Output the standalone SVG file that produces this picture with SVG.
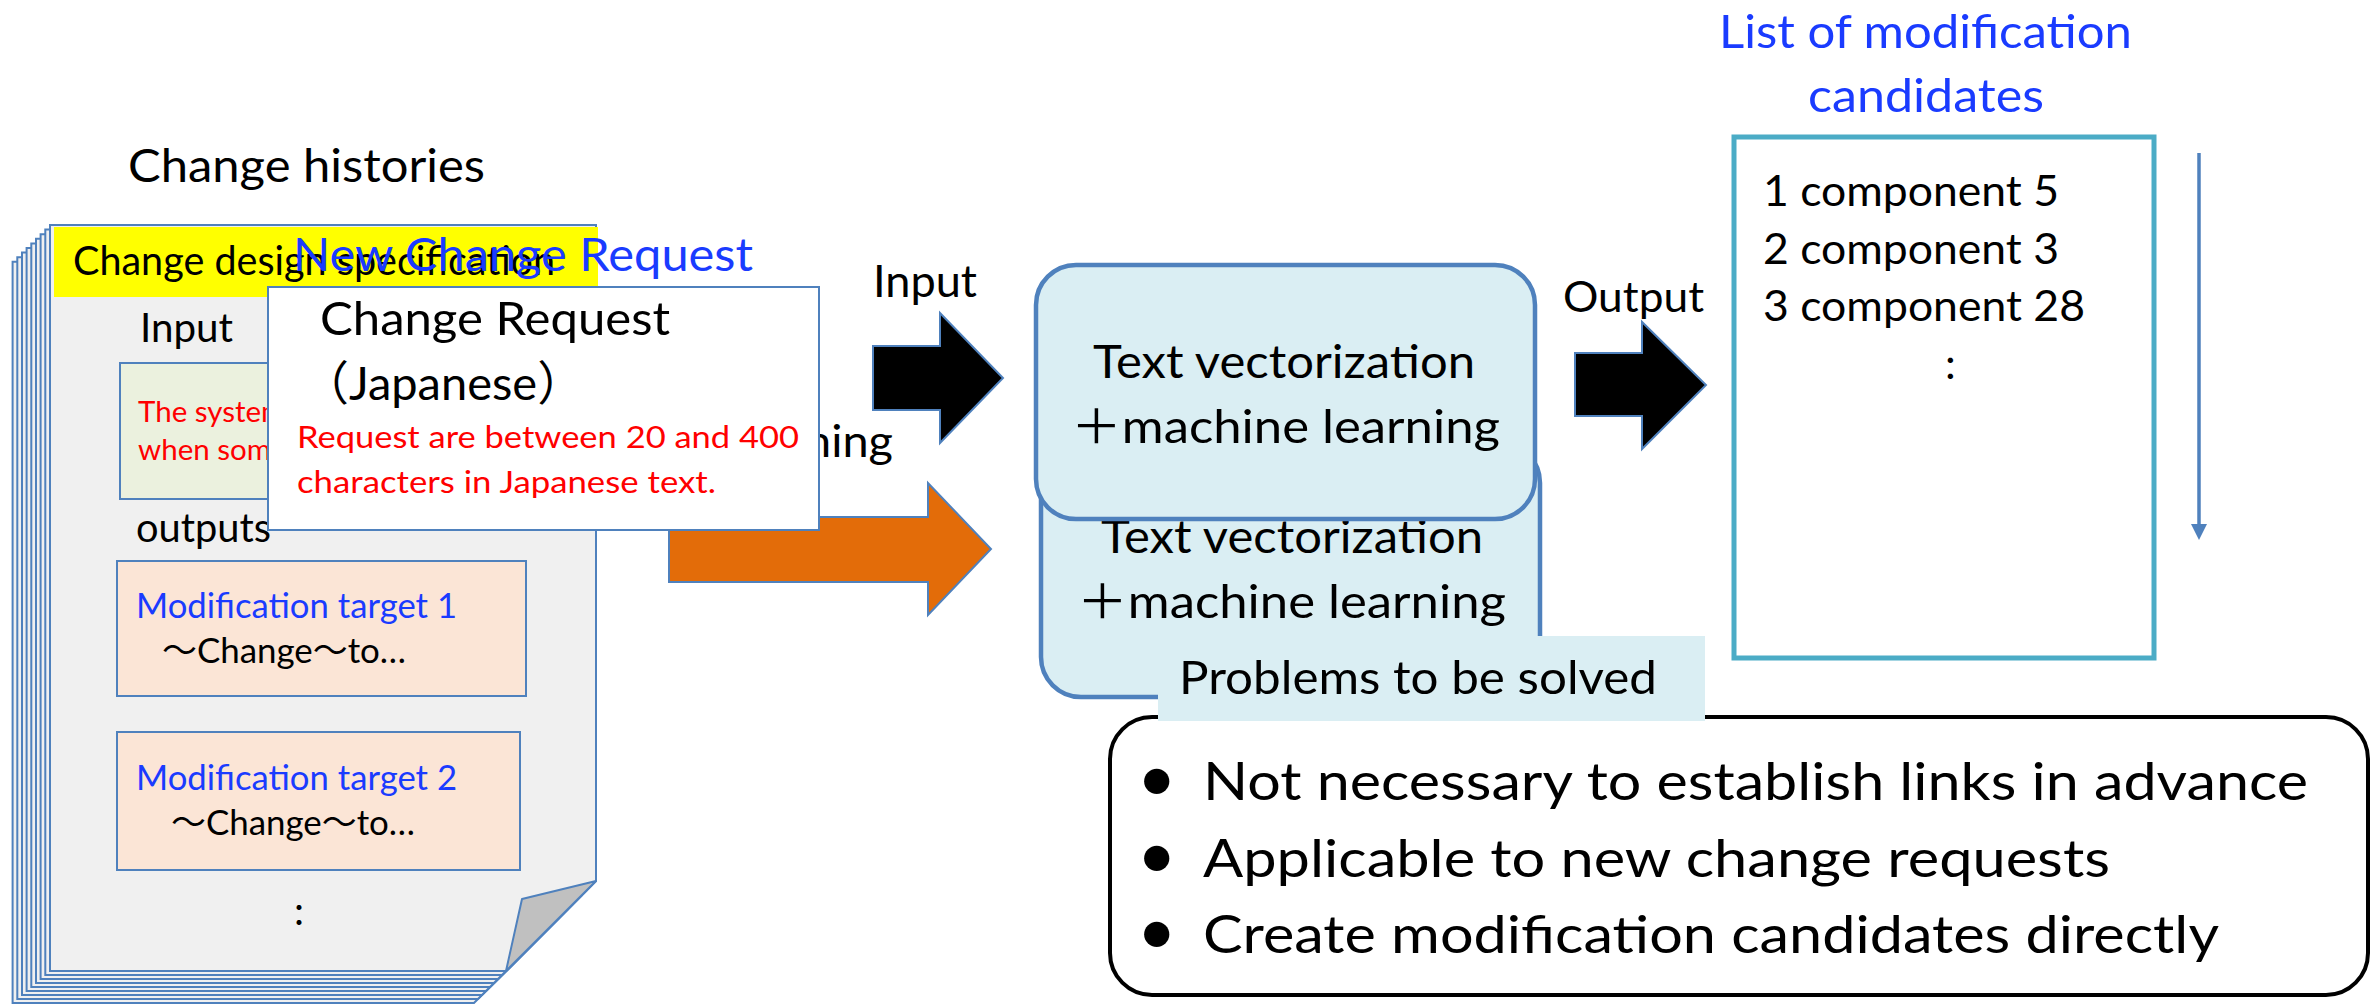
<svg xmlns="http://www.w3.org/2000/svg" width="2373" height="1005" viewBox="0 0 2373 1005">
<style>
text{font-family:Lato,"Noto Sans CJK JP",sans-serif;fill:#000}
.pg{fill:#F0F0F0;stroke:#4F81BD;stroke-width:2}
.blu{fill:#1A3BFF}
.red{fill:#FF0000}
.ml{fill:#DAEEF3;stroke:#4F81BD;stroke-width:4.5}
.arr{stroke:#4F81BD;stroke-width:2}
</style>
<rect width="2373" height="1005" fill="#FFFFFF"/>

<g id="change-histories">
<text x="128" y="182" font-size="47" textLength="357" lengthAdjust="spacingAndGlyphs">Change histories</text>
<polygon class="pg" points="12.6,261.8 558.6,261.8 558.6,918.4 474,1003 12.6,1003"/>
<polygon class="pg" points="17.3,257.2 563.3,257.2 563.3,913.7 478,999 17.3,999"/>
<polygon class="pg" points="22,252.6 568,252.6 568,909 482,995 22,995"/>
<polygon class="pg" points="26.6,248 572.6,248 572.6,904.4 486,991 26.6,991"/>
<polygon class="pg" points="31.3,243.4 577.3,243.4 577.3,899.7 490,987 31.3,987"/>
<polygon class="pg" points="36,238.8 582,238.8 582,895 494,983 36,983"/>
<polygon class="pg" points="40.6,234.2 586.6,234.2 586.6,890.4 498,979 40.6,979"/>
<polygon class="pg" points="45.3,229.6 591.3,229.6 591.3,885.7 502,975 45.3,975"/>
<polygon class="pg" points="50,225 596,225 596,881 506,971 50,971"/>
<polygon points="596,881 522,899 506,971" fill="#C0C0C0" stroke="#4F81BD" stroke-width="2" stroke-linejoin="round"/>
<rect x="54" y="227" width="544" height="70" fill="#FFFF00"/>
<text x="73" y="275" font-size="40" textLength="482" lengthAdjust="spacingAndGlyphs">Change design specification</text>
<text x="140" y="342" font-size="40" textLength="93" lengthAdjust="spacingAndGlyphs">Input</text>
<rect x="120" y="363" width="320" height="136" fill="#EBF1DE" stroke="#4F81BD" stroke-width="2"/>
<text class="red" x="138" y="422" font-size="29.5">The system</text>
<text class="red" x="138" y="460" font-size="29.5">when some</text>
<text x="136" y="542" font-size="40" textLength="135" lengthAdjust="spacingAndGlyphs">outputs</text>
</g>

<g id="modification-target-1">
<rect x="117" y="561" width="409" height="135" fill="#FBE5D6" stroke="#4F81BD" stroke-width="2"/>
<text class="blu" x="136" y="618" font-size="35" textLength="321" lengthAdjust="spacingAndGlyphs">Modification target 1</text>
<text x="162" y="663" font-size="35" textLength="244" lengthAdjust="spacingAndGlyphs">～Change～to…</text>
</g>
<g id="modification-target-2">
<rect x="117" y="732" width="403" height="138" fill="#FBE5D6" stroke="#4F81BD" stroke-width="2"/>
<text class="blu" x="136" y="790" font-size="35" textLength="321" lengthAdjust="spacingAndGlyphs">Modification target 2</text>
<text x="171" y="835" font-size="35" textLength="244" lengthAdjust="spacingAndGlyphs">～Change～to…</text>
<text x="294" y="925" font-size="40">:</text>
</g>

<g id="connectors">
<text x="805" y="457" font-size="44" textLength="88" lengthAdjust="spacingAndGlyphs">ning</text>
<polygon class="arr" points="669,517 928,517 928,483 991,549 928,615 928,582 669,582" fill="#E36C09"/>
<text x="873" y="297" font-size="44" textLength="104" lengthAdjust="spacingAndGlyphs">Input</text>
<polygon class="arr" points="873,346 940,346 940,313 1003,378 940,443 940,410 873,410" fill="#000000"/>
<text x="1563" y="312" font-size="43" textLength="141" lengthAdjust="spacingAndGlyphs">Output</text>
<polygon class="arr" points="1575,353 1642,353 1642,322 1706,385 1642,449 1642,416 1575,416" fill="#000000"/>
<line x1="2199" y1="153" x2="2199" y2="526" stroke="#4F81BD" stroke-width="3.5"/>
<polygon points="2191,524 2207,524 2199,540" fill="#4F81BD"/>
</g>

<g id="new-change-request">
<rect x="268" y="287" width="551" height="243" fill="#FFFFFF" stroke="#4F81BD" stroke-width="2"/>
<text class="blu" x="293" y="271" font-size="47" textLength="460" lengthAdjust="spacingAndGlyphs">New Change Request</text>
<text x="320" y="335" font-size="47" textLength="350" lengthAdjust="spacingAndGlyphs">Change Request</text>
<text x="302" y="400" font-size="47">（Japanese）</text>
<text class="red" x="297" y="448" font-size="31" textLength="502" lengthAdjust="spacingAndGlyphs">Request are between 20 and 400</text>
<text class="red" x="297" y="493" font-size="31" textLength="419" lengthAdjust="spacingAndGlyphs">characters in Japanese text.</text>
</g>

<g id="ml-learning">
<rect class="ml" x="1041" y="443" width="499" height="254" rx="40"/>
<text x="1101" y="553" font-size="47" textLength="382" lengthAdjust="spacingAndGlyphs">Text vectorization</text>
<text x="1077" y="618" font-size="47" textLength="429" lengthAdjust="spacingAndGlyphs">＋machine learning</text>
</g>
<g id="ml-input">
<rect class="ml" x="1036" y="265" width="499" height="254" rx="40"/>
<text x="1093" y="378" font-size="47" textLength="382" lengthAdjust="spacingAndGlyphs">Text vectorization</text>
<text x="1071" y="443" font-size="47" textLength="429" lengthAdjust="spacingAndGlyphs">＋machine learning</text>
</g>

<g id="candidates">
<text class="blu" x="1719" y="48" font-size="47" textLength="413" lengthAdjust="spacingAndGlyphs">List of modification</text>
<text class="blu" x="1808" y="112" font-size="47" textLength="236" lengthAdjust="spacingAndGlyphs">candidates</text>
<rect x="1734" y="137" width="420" height="521" fill="#FFFFFF" stroke="#4BACC6" stroke-width="5"/>
<text x="1763" y="206" font-size="43" textLength="296" lengthAdjust="spacingAndGlyphs">1 component 5</text>
<text x="1763" y="264" font-size="43" textLength="296" lengthAdjust="spacingAndGlyphs">2 component 3</text>
<text x="1763" y="321" font-size="43" textLength="322" lengthAdjust="spacingAndGlyphs">3 component 28</text>
<text x="1945" y="379" font-size="43">:</text>
</g>

<g id="problems">
<rect x="1110" y="717" width="1258" height="278" rx="42" fill="#FFFFFF" stroke="#000000" stroke-width="4"/>
<rect x="1158" y="636" width="547" height="85" fill="#DAEEF3"/>
<text x="1179" y="694" font-size="47" textLength="478" lengthAdjust="spacingAndGlyphs">Problems to be solved</text>
<text x="1137" y="802" font-size="68">•</text>
<text x="1137" y="879" font-size="68">•</text>
<text x="1137" y="955" font-size="68">•</text>
<text x="1203" y="800" font-size="53" textLength="1105" lengthAdjust="spacingAndGlyphs">Not necessary to establish links in advance</text>
<text x="1203" y="877" font-size="53" textLength="907" lengthAdjust="spacingAndGlyphs">Applicable to new change requests</text>
<text x="1203" y="953" font-size="53" textLength="1016" lengthAdjust="spacingAndGlyphs">Create modification candidates directly</text>
</g>
</svg>
